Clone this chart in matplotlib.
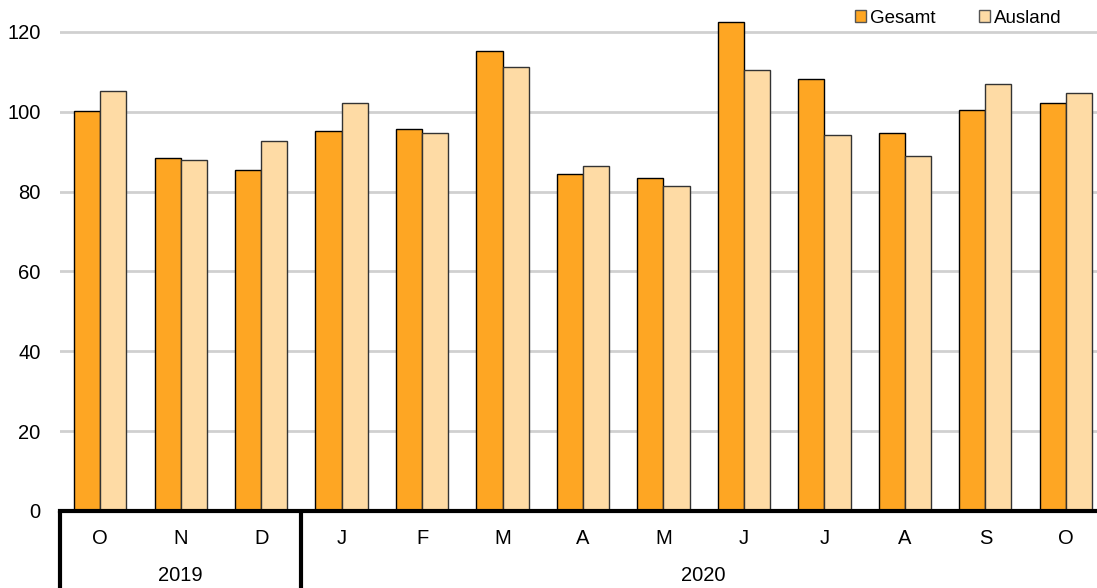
import matplotlib.pyplot as plt
import matplotlib.transforms as mtransforms
from matplotlib.patches import Patch
import numpy as np

plt.rcParams['font.family'] = ['Liberation Sans', 'DejaVu Sans']

months = ["O", "N", "D", "J", "F", "M", "A", "M", "J", "J", "A", "S", "O"]
years = ["2019", "2020"]
year_start = [0, 3]  # index of first month in each year
gesamt = [100.1, 88.4, 85.4, 95.2, 95.6, 115.2, 84.3, 83.5, 122.5, 108.2, 94.7, 100.4, 102.2]
ausland = [105.1, 87.9, 92.6, 102.3, 94.7, 111.1, 86.3, 81.4, 110.4, 94.3, 88.8, 106.9, 104.6]

c_ges = "#FEA623"
c_aus = "#FEDBA5"

fig = plt.figure(figsize=(10.97, 5.88), dpi=100)
ax = fig.add_axes([60 / 1097, 77 / 588, 1038 / 1097, 511 / 588])

x = np.arange(len(months))
w = 0.325
ax.bar(x - w / 2, gesamt, w, color=c_ges, edgecolor="black", linewidth=1, zorder=3)
ax.bar(x + w / 2, ausland, w, color=c_aus, edgecolor="#333333", linewidth=1, zorder=3)

ax.set_xlim(-0.5, 12.4)
ax.set_ylim(0, 128)
ax.set_yticks(range(0, 121, 20))
ax.yaxis.grid(True, color="#d0d0d0", linewidth=2)
ax.set_axisbelow(True)

for s in ["left", "right", "top"]:
    ax.spines[s].set_visible(False)
ax.spines["bottom"].set_linewidth(3)
ax.spines["bottom"].set_zorder(5)

ax.set_xticks(x)
ax.set_xticklabels(months)
ax.tick_params(axis="x", length=0, pad=13, labelsize=14.5)
ax.tick_params(axis="y", length=0, pad=14, labelsize=14.5)

# year labels and separators below the axis
trans = mtransforms.blended_transform_factory(ax.transData, ax.transAxes)
bounds = year_start + [len(months)]
for i, yr in enumerate(years):
    a, b = bounds[i], bounds[i + 1]
    ax.text((a + b - 1) / 2, -0.127, yr, transform=trans, ha="center", va="center", fontsize=14.5)
    ax.plot([a - 0.5, a - 0.5], [0, -0.16], transform=trans, color="black",
            linewidth=3, clip_on=False, solid_capstyle="butt")

handles = [Patch(facecolor=c_ges, edgecolor="#555555", label="Gesamt"),
           Patch(facecolor=c_aus, edgecolor="#555555", label="Ausland")]
fig.legend(handles=handles, loc="upper right", bbox_to_anchor=(1078 / 1097, 1.012),
           ncol=2, frameon=False, fontsize=13.5, handlelength=0.6, handleheight=0.6,
           handletextpad=0.2, columnspacing=2.3)

fig.savefig("out.png", dpi=100)
